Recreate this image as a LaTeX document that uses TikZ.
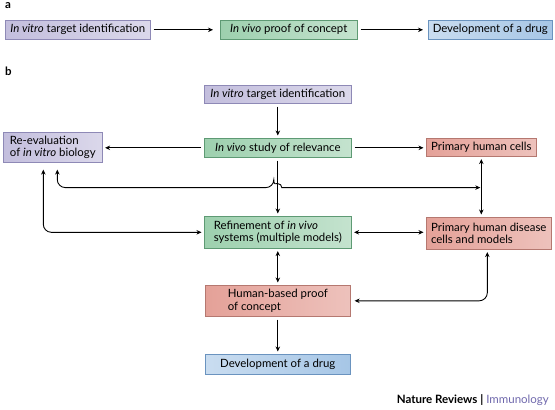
\documentclass[tikz,border=0pt]{standalone}
\usepackage{fontspec}
\setmainfont{Lato}
\usetikzlibrary{arrows.meta}

% Box colours
\definecolor{vitrofill}{HTML}{C3BEDD}
\definecolor{vitroline}{HTML}{8E89B6}
\definecolor{vivofill}{HTML}{9DD0AE}
\definecolor{vivoline}{HTML}{5E9A74}
\definecolor{drugfill}{HTML}{A6C6E6}
\definecolor{drugline}{HTML}{6A93BF}
\definecolor{humanfill}{HTML}{E4A198}
\definecolor{humanline}{HTML}{B57870}
\definecolor{journal}{HTML}{6F68AC}

\begin{document}
\begin{tikzpicture}[x=1pt,y=-1pt,
    box/.style={draw, line width=0.6pt, inner xsep=3.5pt, inner ysep=1pt,
        anchor=north west, align=left, font=\fontsize{11.4}{12.5}\selectfont},
    vitrobox/.style={box, draw=vitroline, left color=vitrofill, right color=vitrofill!60!white},
    vivobox/.style={box, draw=vivoline, left color=vivofill, right color=vivofill!60!white},
    drugbox/.style={box, draw=drugline, left color=drugfill!60!white, right color=drugfill},
    humanbox/.style={box, draw=humanline, left color=humanfill, right color=humanfill!65!white},
    panel/.style={anchor=north west, inner sep=0pt, font=\bfseries\fontsize{11.5}{12}\selectfont},
    link/.style={line width=0.9pt, -{Stealth[length=5pt,width=4.5pt]}, shorten >=2.5pt, shorten <=3pt},
    both/.style={link, {Stealth[length=5pt,width=4.5pt]}-{Stealth[length=5pt,width=4.5pt]}, shorten <=2.5pt}
]
    \useasboundingbox (0,0) rectangle (555,410);

    % Parameters
    \def\hopr{4pt} % radius of the hop

    % Panel a
    \node[panel] (laba) at (5,2) {a};
    \node[vitrobox, minimum width=145pt, minimum height=19pt] (avitro) at (5,20) {\textit{In vitro} target identification};
    \node[vivobox, minimum width=137pt, minimum height=19pt] (avivo) at (220,20) {\textit{In vivo} proof of concept};
    \node[drugbox, minimum width=124pt, minimum height=19pt] (adrug) at (428,20) {Development of a drug};

    \draw[link, shorten >=7pt] (avitro) -- (avivo);
    \draw[link, shorten >=5pt] (avivo) -- (adrug);

    % Panel b
    \node[panel] (labb) at (5,67) {b};
    \node[vitrobox, minimum width=147pt, minimum height=18pt] (target) at (204,85) {\textit{In vitro} target identification};
    \node[vivobox, minimum width=147pt, minimum height=19pt] (study) at (204,138) {\textit{In vivo} study of relevance};
    \node[vitrobox, minimum width=99pt, minimum height=30pt] (reeval) at (3,132) {Re-evaluation\\of \textit{in vitro} biology};
    \node[humanbox, minimum width=110pt, minimum height=18pt] (cells) at (426,138) {Primary human cells};
    \node[vivobox, minimum width=147pt, minimum height=32pt] (refine) at (204,216) {Refinement of \textit{in vivo}\\systems (multiple models)};
    \node[humanbox, minimum width=125pt, minimum height=32pt] (disease) at (426,217) {Primary human disease\\cells and models};
    \node[humanbox, minimum width=145pt, minimum height=31pt] (human) at (205,285) {Human-based proof\\of concept};
    \node[drugbox, minimum width=145pt, minimum height=20pt] (drug) at (205,354) {Development of a drug};

    % Connectors
    \draw[link] (target) -- (study);
    \draw[link] (study.west) -- (study.west -| reeval.east);
    \draw[link] (study.east) -- (study.east -| cells.west);
    \draw[link] (study) -- (refine);

    % Line that hops over the study -> refine arrow
    \path (study.south) ++(0,30) coordinate (hop);
    \draw[both, shorten <=7pt, shorten >=1pt, rounded corners=8pt]
        ([xshift=4.5pt]reeval.south) |- ([xshift=-\hopr]hop)
        [sharp corners] arc[start angle=180, end angle=0, radius=\hopr]
        -- (hop -| cells.south);

    \draw[both] (cells.south) -- (cells.south |- disease.north);
    \draw[both, shorten <=7pt, rounded corners=8pt] ([xshift=-9.5pt]reeval.south) |- (refine.west);
    \draw[both] (refine.east) -- (refine.east -| disease.west);
    \draw[both] (refine) -- (human);
    \draw[link] (human) -- (drug);
    \draw[both, shorten >=4pt, rounded corners=8pt] ([xshift=-1.5pt]disease.south) |- (human.east);

    % Credit line
    \node[anchor=east, inner sep=0pt, font=\fontsize{11.5}{12}\selectfont] (credit) at (549,400)
        {\textbf{Nature Reviews} \textbf{|} \textcolor{journal}{Immunology}};
\end{tikzpicture}
\end{document}
